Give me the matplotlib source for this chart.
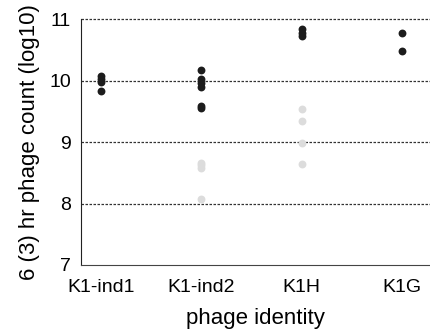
import matplotlib.pyplot as plt

plt.rcParams['font.family'] = ['Liberation Sans', 'DejaVu Sans']

phages = ['K1-ind1', 'K1-ind2', 'K1H', 'K1G']

# 6 hr counts (black) and 3 hr counts (grey), log10
dark_ind1 = [10.08, 10.02, 9.98, 9.83]
dark_ind2 = [10.18, 10.02, 9.96, 9.90, 9.58, 9.55]
dark_k1h = [10.84, 10.78, 10.72]
dark_k1g = [10.78, 10.48]
light_ind2 = [8.66, 8.62, 8.57, 8.08]
light_k1h = [9.53, 9.35, 8.98, 8.64]

dark = [dark_ind1, dark_ind2, dark_k1h, dark_k1g]
light = [[], light_ind2, light_k1h, []]

fig = plt.figure(figsize=(4.3, 3.3), dpi=100)
ax = fig.add_axes([0.188, 0.197, 0.812, 0.745])

for i, vals in enumerate(light):
    ax.scatter([i] * len(vals), vals, s=32, color='#dcdcdc', linewidths=0, zorder=3)
for i, vals in enumerate(dark):
    ax.scatter([i] * len(vals), vals, s=32, color='#1c1c1c', linewidths=0, zorder=4)

for y in [8, 9, 10, 11]:
    ax.axhline(y, color='#333333', lw=0.9, ls=(0, (2, 1.2)), zorder=1, clip_on=False)

ax.set_xlim(-0.2, 3.28)
ax.set_ylim(7, 11)
ax.set_yticks([7, 8, 9, 10, 11])
ax.set_xticks(range(len(phages)))
ax.set_xticklabels(phages)
ax.tick_params(length=0, labelsize=14)
ax.tick_params(axis='y', pad=7)
ax.tick_params(axis='x', pad=10)

ax.spines['top'].set_visible(False)
ax.spines['right'].set_visible(False)
ax.spines['left'].set_color('#222222')
ax.spines['bottom'].set_color('#444444')

ax.set_xlabel('phage identity', fontsize=16, labelpad=9)
ax.set_ylabel('6 (3) hr phage count (log10)', fontsize=16, labelpad=7)

fig.savefig('out.png', dpi=100)
